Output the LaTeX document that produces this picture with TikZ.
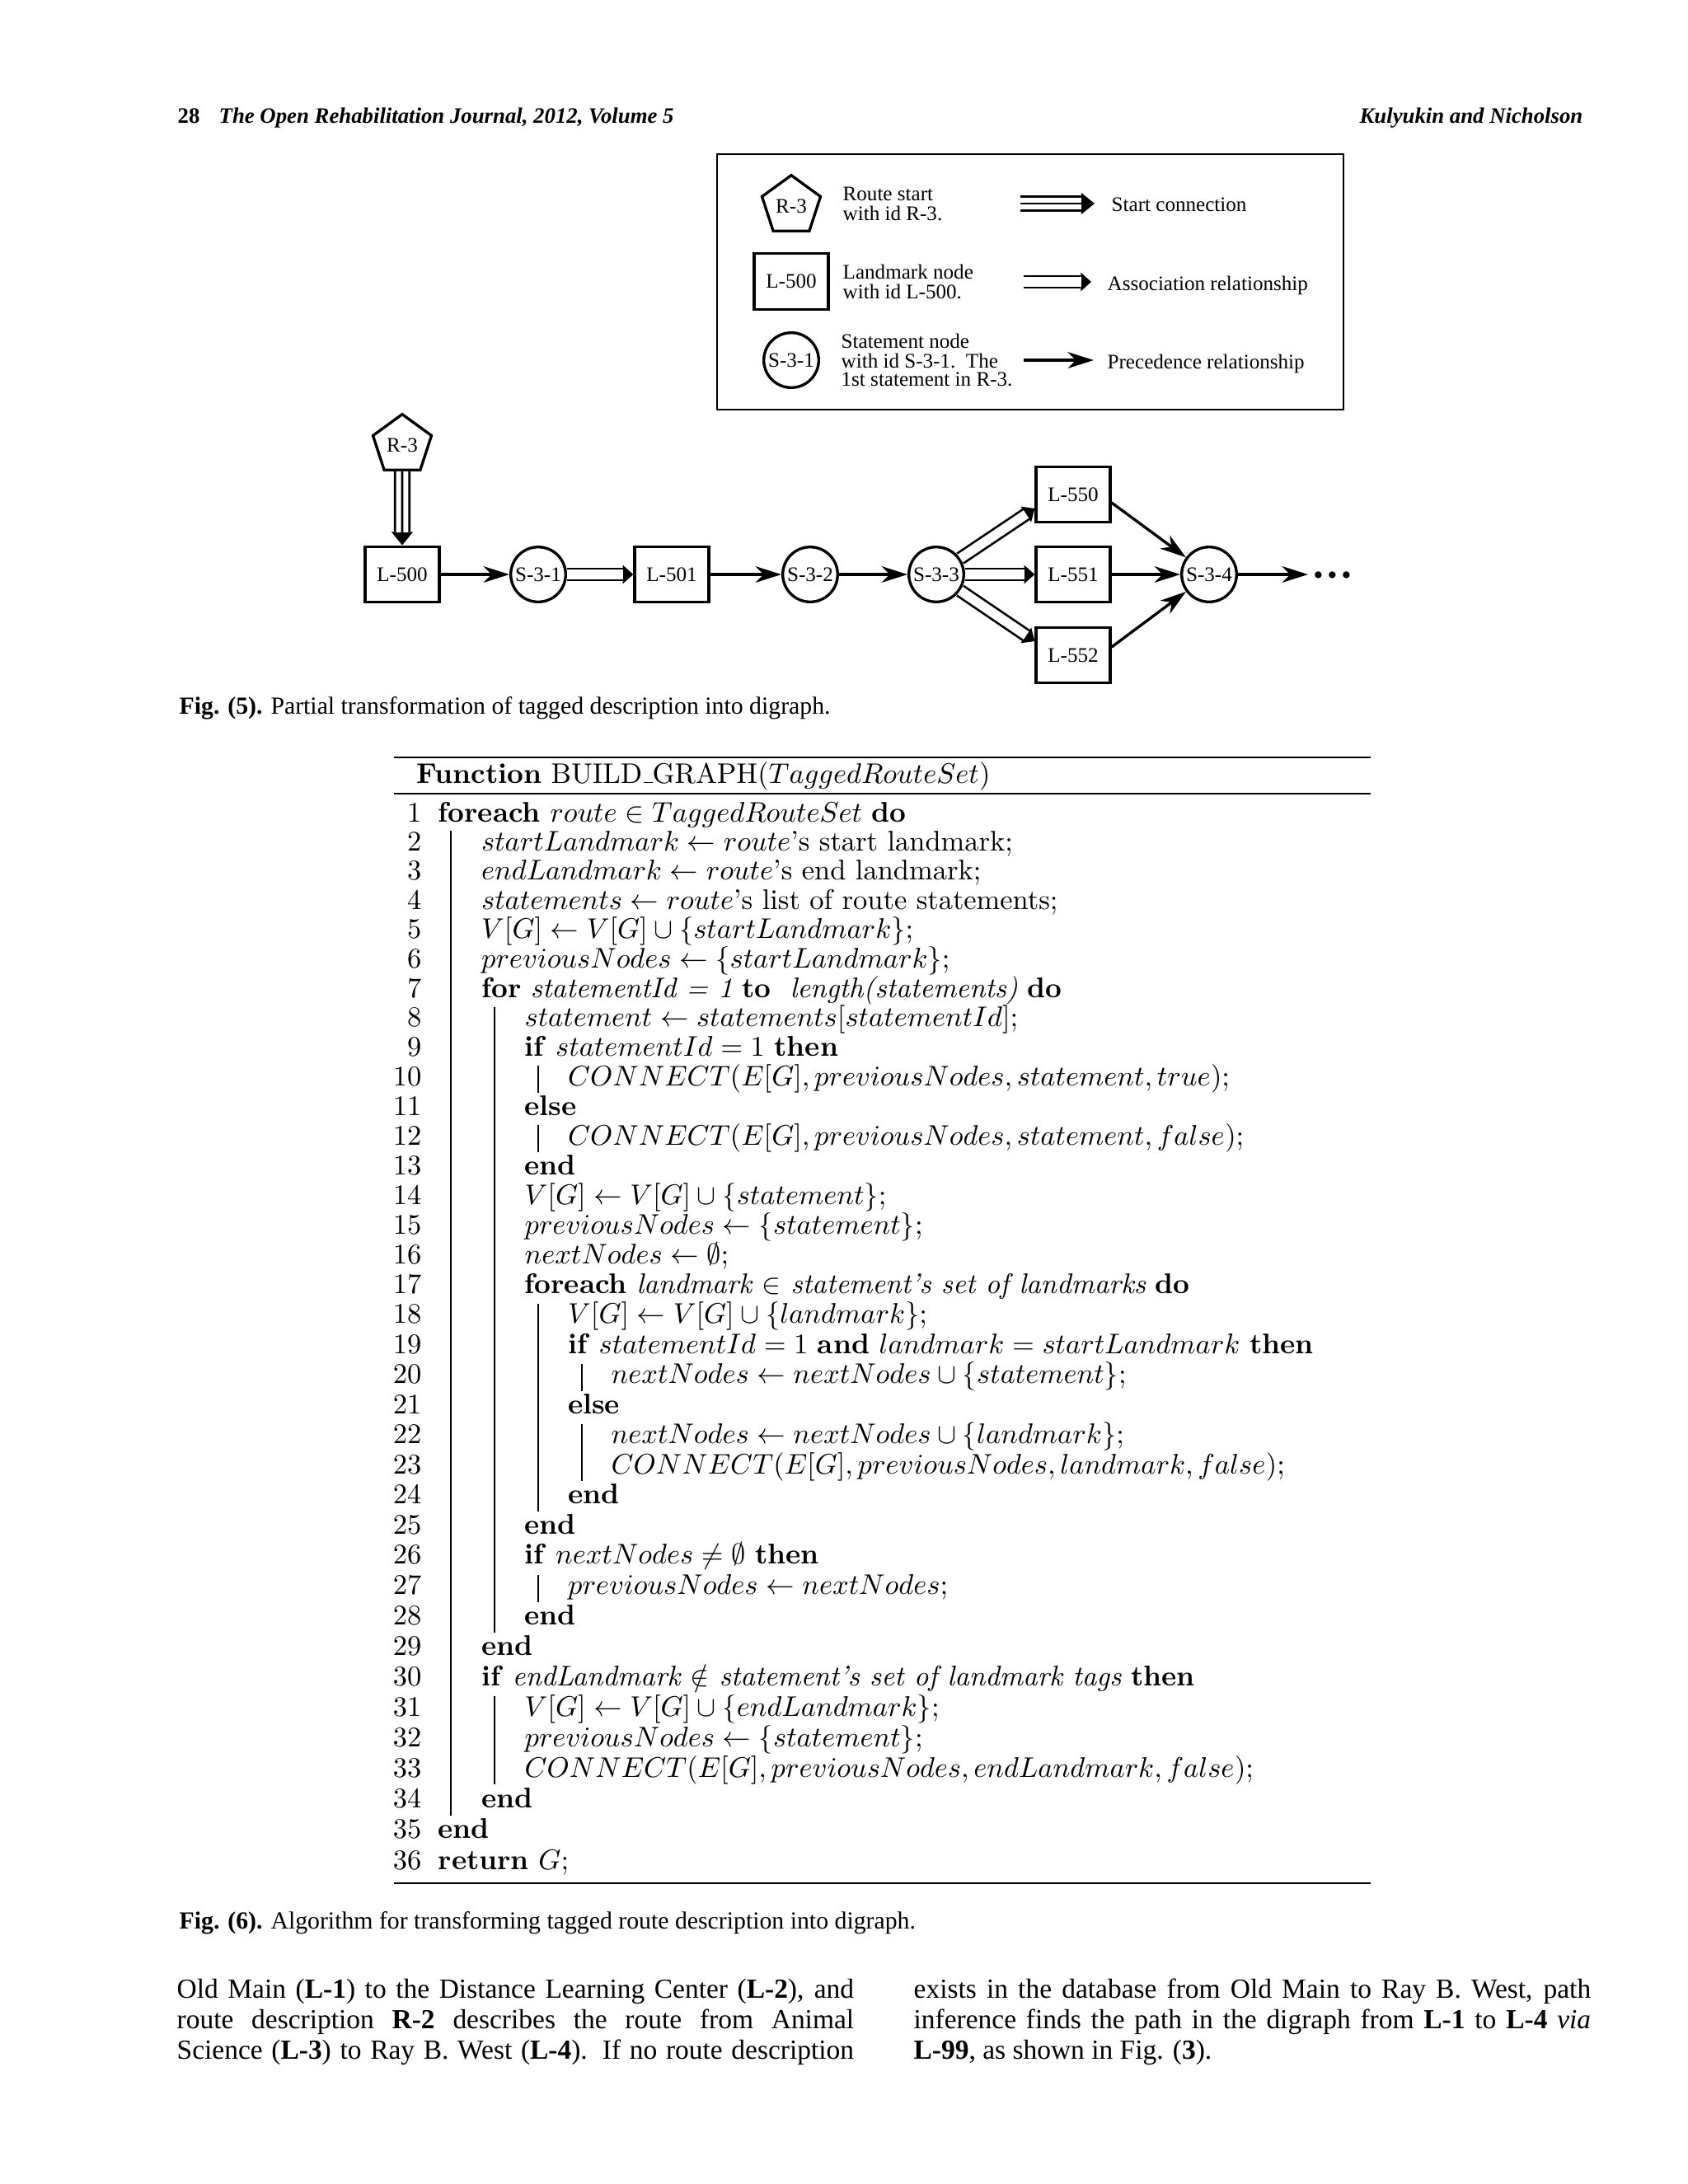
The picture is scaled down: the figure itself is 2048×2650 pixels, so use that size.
\RequirePackage{fix-cm}
\documentclass[tikz,border=0pt]{standalone}
\usepackage{fontspec}
\newfontfamily\tms{Liberation Serif}
\usetikzlibrary{arrows.meta,shapes.geometric}
\newcommand\algline[3]{\node[alg, anchor=base west] (t#1) at ({531+52.5*#2},{bl(#1)}) {#3};}
\newcommand\algbar[3]{\draw[algbar] ({547+53*#1},{bl(#2)-24}) -- ({547+53*#1},{bl(#3)+9});}
\newcommand\ulbar{\kern.06em\rule{0.3em}{0.4pt}}
\begin{document}
\begin{tikzpicture}[x=0.29883pt,y=-0.29883pt,
  declare function={bl(\k)=997+35.346*(\k-1)+0.0277*(\k-1)^2;},
  lbl/.style={font=\tms\fontsize{7.5}{6.9}\selectfont, inner sep=0pt},
  lmk/.style={lbl, draw, line width=1pt, rectangle, minimum width=26.9pt, minimum height=20.2pt},
  stm/.style={lbl, draw, line width=1pt, circle, minimum size=19.9pt},
  rte/.style={lbl, draw, line width=1pt, regular polygon, regular polygon sides=5, minimum size=22.3pt},
  prec/.style={line width=1pt, -{Stealth[length=9.5pt,width=6pt,inset=3pt,line width=0pt]}},
  assoc/.style={line width=5pt, -{Triangle[length=3.8pt,width=6.8pt,line width=0pt]},
     postaction={draw=white, line width=3.4pt, -, shorten >=3.7pt}},
  startc/.style={line width=6pt, -{Triangle[length=4.8pt,width=7.8pt,line width=0pt]},
     postaction={draw=white, line width=4.4pt, -, shorten >=4.7pt},
     postaction={draw=black, line width=0.8pt, -, shorten >=4.7pt}},
  hdr/.style={font=\tms\fontsize{8}{10}\selectfont, inner sep=0pt},
  figcap/.style={font=\tms\fontsize{8.9}{11}\selectfont, inner sep=0pt},
  bodytxt/.style={font=\tms\fontsize{10}{11.2}\selectfont, inner sep=0pt},
  alg/.style={font=\fontsize{10.3}{12.4}\selectfont, inner sep=0pt},
  algrule/.style={line width=0.75pt},
  algbar/.style={line width=0.5pt},
]
\fill[white] (0,0) rectangle (2048,2650);
\useasboundingbox (0,0) rectangle (2048,2650);

% header
\node[hdr, anchor=base west] (pg) at (215,149) {\bfseries 28};
\node[hdr, anchor=base west] (jn) at (265,149) {\bfseries\itshape The Open Rehabilitation Journal, 2012, Volume 5};
\node[hdr, anchor=base east] (au) at (1921,149) {\bfseries\itshape Kulyukin and Nicholson};

% legend
\node[draw, line width=0.7pt, minimum width=227pt, minimum height=92.5pt, inner sep=0pt] (legend) at (1250,342) {};
\node[rte] (kR) at (960,250) {R-3};
\node[lbl, anchor=base west] (kRa) at (1022,243) {Route start};
\node[lbl, anchor=base west] (kRb) at (1022,267) {with id R-3.};
\node[lmk] (kL) at (960,341.5) {L-500};
\node[lbl, anchor=base west] (kLa) at (1022,338) {Landmark node};
\node[lbl, anchor=base west] (kLb) at (1022,362) {with id L-500.};
\node[stm] (kS) at (960,437) {S-3-1};
\node[lbl, anchor=base west] (kSa) at (1020,422) {Statement node};
\node[lbl, anchor=base west] (kSb) at (1020,446) {with id S-3-1.\ \ The};
\node[lbl, anchor=base west] (kSc) at (1020,468) {1st statement in R-3.};
\coordinate (ka1) at (1238,247); \coordinate (ka2) at (1328,247);
\coordinate (kb1) at (1242,342); \coordinate (kb2) at (1324,342);
\coordinate (kc1) at (1242,437); \coordinate (kc2) at (1327,437);
\draw[startc] (ka1) -- (ka2);
\draw[assoc] (kb1) -- (kb2);
\draw[prec] (kc1) -- (kc2);
\node[lbl, anchor=base west] (kat) at (1348,256) {Start connection};
\node[lbl, anchor=base west] (kbt) at (1343,352) {Association relationship};
\node[lbl, anchor=base west] (kct) at (1343,447) {Precedence relationship};

% diagram
\node[rte] (R3) at (488,540) {R-3};
\node[lmk] (L500) at (488,697) {L-500};
\node[stm] (S31) at (653,697) {S-3-1};
\node[lmk] (L501) at (815,697) {L-501};
\node[stm] (S32) at (983,697) {S-3-2};
\node[stm] (S33) at (1136,697) {S-3-3};
\node[lmk] (L550) at (1302,600) {L-550};
\node[lmk] (L551) at (1302,697) {L-551};
\node[lmk] (L552) at (1302,795) {L-552};
\node[stm] (S34) at (1467,697) {S-3-4};
\coordinate (endc) at (1587,697);
\node[font=\tms\bfseries\fontsize{15}{15}\selectfont, inner sep=0pt] (dots) at (1617,704) {···};
\draw[startc] (R3) -- (L500);
\draw[prec] (L500) -- (S31);
\draw[assoc] (S31) -- (L501);
\draw[prec] (L501) -- (S32);
\draw[prec] (S32) -- (S33);
\draw[assoc] (S33) -- (L550.200);
\draw[assoc] (S33) -- (L551);
\draw[assoc] (S33) -- (L552.160);
\draw[prec] (L550.-12) -- (S34);
\draw[prec] (L551) -- (S34);
\draw[prec] (L552.12) -- (S34);
\draw[prec] (S34) -- (endc);

\node[figcap, anchor=base west] (c5) at (217,866) {\bfseries Fig. (5).\mdseries{} Partial transformation of tagged description into digraph.};

% algorithm
\coordinate (ra1) at (478,919); \coordinate (ra2) at (1663,919);
\coordinate (rb1) at (478,963); \coordinate (rb2) at (1663,963);
\coordinate (rc1) at (478,2285); \coordinate (rc2) at (1663,2285);
\draw[algrule] (ra1) -- (ra2);
\draw[algrule] (rb1) -- (rb2);
\draw[algrule] (rc1) -- (rc2);
\node[alg, anchor=base west] (fn) at (505,950) {\textbf{Function} BUILD\ulbar GRAPH($TaggedRouteSet$)};
\foreach \k in {1,...,36} {\node[alg, anchor=base east] (n\k) at (512,{bl(\k)}) {\k};}
\algline{1}{0}{\textbf{foreach} $route \in TaggedRouteSet$ \textbf{do}}
\algline{2}{1}{$startLandmark \leftarrow route$'s start landmark;}
\algline{3}{1}{$endLandmark \leftarrow route$'s end landmark;}
\algline{4}{1}{$statements \leftarrow route$'s list of route statements;}
\algline{5}{1}{$V[G] \leftarrow V[G] \cup \{startLandmark\}$;}
\algline{6}{1}{$previousNodes \leftarrow \{startLandmark\}$;}
\algline{7}{1}{\textbf{for} \emph{statementId = 1} \textbf{to}\ \ \emph{length(statements)} \textbf{do}}
\algline{8}{2}{$statement \leftarrow statements[statementId]$;}
\algline{9}{2}{\textbf{if} $statementId = 1$ \textbf{then}}
\algline{10}{3}{$CONNECT(E[G], previousNodes, statement, true)$;}
\algline{11}{2}{\textbf{else}}
\algline{12}{3}{$CONNECT(E[G], previousNodes, statement, false)$;}
\algline{13}{2}{\textbf{end}}
\algline{14}{2}{$V[G] \leftarrow V[G] \cup \{statement\}$;}
\algline{15}{2}{$previousNodes \leftarrow \{statement\}$;}
\algline{16}{2}{$nextNodes \leftarrow \emptyset$;}
\algline{17}{2}{\textbf{foreach} \emph{landmark $\in$ statement's set of landmarks} \textbf{do}}
\algline{18}{3}{$V[G] \leftarrow V[G] \cup \{landmark\}$;}
\algline{19}{3}{\textbf{if} $statementId = 1$ \textbf{and} $landmark = startLandmark$ \textbf{then}}
\algline{20}{4}{$nextNodes \leftarrow nextNodes \cup \{statement\}$;}
\algline{21}{3}{\textbf{else}}
\algline{22}{4}{$nextNodes \leftarrow nextNodes \cup \{landmark\}$;}
\algline{23}{4}{$CONNECT(E[G], previousNodes, landmark, false)$;}
\algline{24}{3}{\textbf{end}}
\algline{25}{2}{\textbf{end}}
\algline{26}{2}{\textbf{if} $nextNodes \neq \emptyset$ \textbf{then}}
\algline{27}{3}{$previousNodes \leftarrow nextNodes$;}
\algline{28}{2}{\textbf{end}}
\algline{29}{1}{\textbf{end}}
\algline{30}{1}{\textbf{if} \emph{endLandmark $\notin$ statement's set of landmark tags} \textbf{then}}
\algline{31}{2}{$V[G] \leftarrow V[G] \cup \{endLandmark\}$;}
\algline{32}{2}{$previousNodes \leftarrow \{statement\}$;}
\algline{33}{2}{$CONNECT(E[G], previousNodes, endLandmark, false)$;}
\algline{34}{1}{\textbf{end}}
\algline{35}{0}{\textbf{end}}
\algline{36}{0}{\textbf{return} $G$;}
\algbar{0}{2}{34}
\algbar{1}{8}{28}
\algbar{1}{31}{33}
\algbar{2}{10}{10}
\algbar{2}{12}{12}
\algbar{2}{18}{24}
\algbar{2}{27}{27}
\algbar{3}{20}{20}
\algbar{3}{22}{23}

\node[figcap, anchor=base west] (c6) at (217,2340) {\bfseries Fig. (6).\mdseries{} Algorithm for transforming tagged route description into digraph.};

% body text
\node[bodytxt, anchor=base west] (p1) at (214,2424) {\makebox[245.5pt][s]{Old Main (\textbf{L-1}) to the Distance Learning Center (\textbf{L-2}), and}};
\node[bodytxt, anchor=base west] (p2) at (214,2461) {\makebox[245.5pt][s]{route description \textbf{R-2} describes the route from Animal}};
\node[bodytxt, anchor=base west] (p3) at (214,2498) {\makebox[245.5pt][s]{Science (\textbf{L-3}) to Ray B. West (\textbf{L-4}). If no route description}};
\node[bodytxt, anchor=base west] (q1) at (1108,2424) {\makebox[245.5pt][s]{exists in the database from Old Main to Ray B. West, path}};
\node[bodytxt, anchor=base west] (q2) at (1108,2461) {\makebox[245.5pt][s]{inference finds the path in the digraph from \textbf{L-1} to \textbf{L-4} \emph{via}}};
\node[bodytxt, anchor=base west] (q3) at (1108,2498) {\textbf{L-99}, as shown in Fig. (\textbf{3}).};
\end{tikzpicture}
\end{document}
